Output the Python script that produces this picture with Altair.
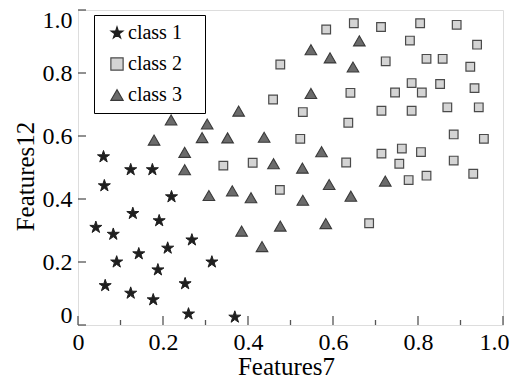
import altair as alt
import pandas as pd

classes = ["class 1", "class 2", "class 3"]

star_x = [0.060, 0.124, 0.175, 0.062, 0.220, 0.129, 0.042, 0.191, 0.083, 0.268, 0.211,
          0.143, 0.091, 0.315, 0.188, 0.064, 0.252, 0.124, 0.177, 0.260, 0.369]
star_y = [0.534, 0.493, 0.493, 0.442, 0.407, 0.354, 0.310, 0.331, 0.288, 0.270, 0.244,
          0.226, 0.200, 0.200, 0.175, 0.125, 0.131, 0.101, 0.080, 0.035, 0.025]

square_x = [0.584, 0.649, 0.713, 0.805, 0.891, 0.781, 0.939, 0.476, 0.724, 0.820,
            0.858, 0.923, 0.785, 0.852, 0.809, 0.746, 0.641, 0.933, 0.459, 0.529,
            0.714, 0.785, 0.869, 0.943, 0.636, 0.884, 0.955, 0.523, 0.762, 0.807,
            0.714, 0.756, 0.884, 0.631, 0.411, 0.342, 0.778, 0.820, 0.930, 0.475, 0.685]
square_y = [0.938, 0.958, 0.946, 0.958, 0.953, 0.903, 0.890, 0.827, 0.837, 0.845,
            0.845, 0.820, 0.768, 0.765, 0.738, 0.738, 0.737, 0.752, 0.716, 0.676,
            0.680, 0.680, 0.691, 0.691, 0.642, 0.605, 0.591, 0.591, 0.560, 0.549,
            0.544, 0.512, 0.522, 0.516, 0.515, 0.506, 0.460, 0.474, 0.480, 0.429, 0.323]

tri_x = [0.219, 0.378, 0.304, 0.179, 0.292, 0.352, 0.251, 0.438, 0.251, 0.308,
         0.363, 0.407, 0.573, 0.460, 0.528, 0.591, 0.529, 0.642, 0.385, 0.476,
         0.583, 0.433, 0.662, 0.548, 0.593, 0.647, 0.548, 0.723]
tri_y = [0.651, 0.679, 0.638, 0.587, 0.595, 0.594, 0.548, 0.596, 0.493, 0.411,
         0.426, 0.404, 0.550, 0.512, 0.498, 0.446, 0.396, 0.409, 0.298, 0.314,
         0.322, 0.249, 0.902, 0.874, 0.848, 0.819, 0.735, 0.457]

x_ticks = [0, 0.2, 0.4, 0.6, 0.8, 1.0]
x_minor = [0.1, 0.3, 0.5, 0.7, 0.9]
y_ticks = [0, 0.2, 0.4, 0.6, 0.8, 1.0]

df = pd.concat([
    pd.DataFrame({"x": star_x, "y": star_y, "cls": classes[0]}),
    pd.DataFrame({"x": square_x, "y": square_y, "cls": classes[1]}),
    pd.DataFrame({"x": tri_x, "y": tri_y, "cls": classes[2]}),
], ignore_index=True)

STAR = ("M0,-1L0.2245,-0.309L0.9511,-0.309L0.3633,0.118L0.5878,0.809L0,0.382"
        "L-0.5878,0.809L-0.3633,0.118L-0.9511,-0.309L-0.2245,-0.309Z")

W, H = 425, 315
FONT = "Liberation Serif"
xs = alt.Scale(domain=[0, 1], nice=False, zero=False)
ys = alt.Scale(domain=[0, 1], nice=False, zero=False)

shape_scale = alt.Scale(domain=classes, range=[STAR, "square", "triangle-up"])
fill_scale = alt.Scale(domain=classes, range=["#1f1f1f", "#d4d4d4", "#6b6b6b"])
stroke_scale = alt.Scale(domain=classes, range=["#1f1f1f", "#4a4a4a", "#3a3a3a"])

legend = alt.Legend(
    title=None,
    orient="none", legendX=16, legendY=5,
    fillColor="white", strokeColor="black", padding=8,
    symbolSize=150, symbolStrokeWidth=1.2, symbolOffset=5,
    labelFont=FONT, labelFontSize=20, labelColor="black", labelOffset=1,
    rowPadding=11,
    labelExpr="datum.label + '\u2800'",
)

label_expr = "datum.value == 0 ? '0' : format(datum.value, '.1f')"

xaxis = alt.Axis(
    values=x_ticks, labelExpr=label_expr, ticks=False, tickSize=0, domain=False, grid=False,
    labelFont=FONT, labelFontSize=24, labelColor="black", labelPadding=5,
    labelFlush=True, labelFlushOffset=6,
    title="Features7", titleFont=FONT, titleFontSize=25, titleFontWeight="normal",
    titleColor="black", titleX=208, titleY=49, titleBaseline="alphabetic",
)
yaxis = alt.Axis(
    values=y_ticks, labelExpr=label_expr, ticks=False, tickSize=0, domain=False, grid=False,
    labelFont=FONT, labelFontSize=24, labelColor="black", labelPadding=6,
    labelFlush=True, labelFlushOffset=2,
    title="Features12", titleFont=FONT, titleFontSize=25, titleFontWeight="normal",
    titleColor="black", titleX=-45, titleY=166, titleBaseline="alphabetic",
)


def points(cls, size, sw):
    return alt.Chart(df).transform_filter(alt.datum.cls == cls).mark_point(
        size=size, opacity=1, strokeWidth=sw, filled=True
    ).encode(
        x=alt.X("x:Q", scale=xs, axis=xaxis),
        y=alt.Y("y:Q", scale=ys, axis=yaxis),
        shape=alt.Shape("cls:N", scale=shape_scale, legend=legend),
        fill=alt.Fill("cls:N", scale=fill_scale, legend=legend),
        stroke=alt.Stroke("cls:N", scale=stroke_scale, legend=legend),
    )


tick_color = "#555555"
xmaj = alt.Chart(pd.DataFrame({"v": x_ticks})).mark_rule(color=tick_color, strokeWidth=1.3).encode(
    x=alt.X("v:Q", scale=xs, axis=xaxis), y=alt.value(H), y2=alt.value(H - 9))
xmin = alt.Chart(pd.DataFrame({"v": x_minor})).mark_rule(color=tick_color, strokeWidth=1.3).encode(
    x=alt.X("v:Q", scale=xs, axis=xaxis), y=alt.value(H), y2=alt.value(H - 5))
ymaj = alt.Chart(pd.DataFrame({"v": y_ticks})).mark_rule(color=tick_color, strokeWidth=1.3).encode(
    y=alt.Y("v:Q", scale=ys, axis=yaxis), x=alt.value(0), x2=alt.value(8))

chart = alt.layer(
    points(classes[0], 160, 1.0),
    points(classes[1], 75, 1.2),
    points(classes[2], 135, 1.1),
    xmaj, xmin, ymaj,
).properties(
    width=W, height=H,
    autosize=alt.AutoSizeParams(type="none"),
    padding={"left": 70, "top": 2, "right": 8, "bottom": 56},
).configure_view(
    stroke="#555555", strokeWidth=1.5
).configure_axis(
    labelFont=FONT, titleFont=FONT
).configure_legend(
    labelFont=FONT, titleFont=FONT
).configure(
    font=FONT
)

chart.save("out.html", embed_options={"renderer": "svg", "actions": False})
